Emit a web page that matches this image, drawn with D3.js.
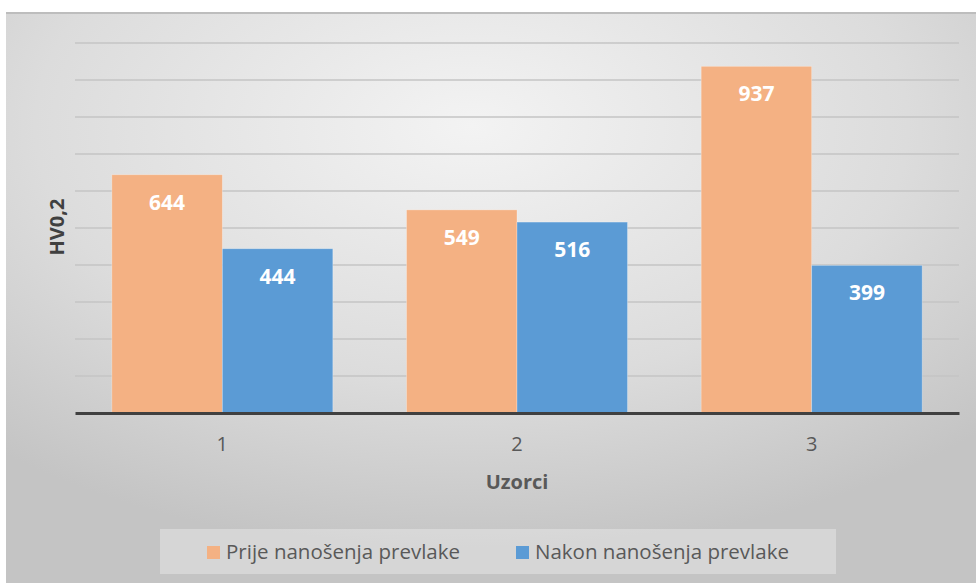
<!DOCTYPE html>
<html>
<head>
<meta charset="utf-8">
<script src="https://cdn.jsdelivr.net/npm/d3@7"></script>
<style>
  body { margin: 0; background: #fff; }
  svg text { font-family: "Open Sans", "Noto Sans", sans-serif; }
</style>
</head>
<body>
<div id="chart"></div>
<script>
const w = 976;
const h = 583;

const categories = ["1", "2", "3"];
const seriesNames = ["Prije nanošenja prevlake", "Nakon nanošenja prevlake"];
const prije = [644, 549, 937];
const nakon = [444, 516, 399];
const yTicks = [0, 100, 200, 300, 400, 500, 600, 700, 800, 900, 1000];

const colors = ["#f4b183", "#5b9bd5"];
const margin = { left: 75, right: 17, top: 43, bottom: 170 };

const svg = d3.select("#chart").append("svg").attr("width", w).attr("height", h);

// background gradient
const defs = svg.append("defs");
const grad = defs.append("radialGradient")
    .attr("id", "bg")
    .attr("cx", "48%").attr("cy", "20%").attr("r", "75%")
    .attr("fx", "48%").attr("fy", "20%");
grad.append("stop").attr("offset", "0%").attr("stop-color", "#f3f3f3");
grad.append("stop").attr("offset", "60%").attr("stop-color", "#dcdcdc");
grad.append("stop").attr("offset", "100%").attr("stop-color", "#c4c4c4");

svg.append("rect")
    .attr("x", 6).attr("y", 12)
    .attr("width", w - 6).attr("height", h - 12)
    .style("fill", "url(#bg)");
svg.append("line")
    .attr("x1", 6).attr("x2", w).attr("y1", 13).attr("y2", 13)
    .style("stroke", "#bdbdbd").style("stroke-width", 2);

const x = d3.scaleBand()
    .domain(categories)
    .range([margin.left, w - margin.right])
    .paddingInner(0.25)
    .paddingOuter(0.125);

const xSub = d3.scaleBand()
    .domain([0, 1])
    .range([0, x.bandwidth()]);

const y = d3.scaleLinear()
    .domain([0, 1000])
    .range([413, margin.top]);

// gridlines
svg.append("g")
    .selectAll("line")
    .data(yTicks.slice(1))
    .enter()
    .append("line")
    .attr("x1", margin.left)
    .attr("x2", w - margin.right)
    .attr("y1", d => y(d))
    .attr("y2", d => y(d))
    .style("stroke", "#c4c4c4")
    .style("stroke-width", 1.6);

const rows = categories.map((c, i) => ({ cat: c, values: [prije[i], nakon[i]] }));

const groups = svg.selectAll(".grp")
    .data(rows)
    .enter()
    .append("g")
    .attr("class", "grp")
    .attr("transform", d => "translate(" + x(d.cat) + ",0)");

groups.selectAll("rect")
    .data(d => d.values.map((v, j) => ({ v: v, j: j })))
    .enter()
    .append("rect")
    .attr("x", d => xSub(d.j))
    .attr("width", xSub.bandwidth())
    .attr("y", d => y(d.v))
    .attr("height", d => y(0) - y(d.v))
    .style("fill", d => colors[d.j])
    .style("stroke", "#ffffff")
    .style("stroke-opacity", 0.35)
    .style("stroke-width", 0.8);

groups.selectAll("text")
    .data(d => d.values.map((v, j) => ({ v: v, j: j })))
    .enter()
    .append("text")
    .attr("x", d => xSub(d.j) + xSub.bandwidth() / 2)
    .attr("y", d => y(d.v) + 35)
    .attr("text-anchor", "middle")
    .style("fill", "#ffffff")
    .style("font-weight", "bold")
    .style("font-size", "21px")
    .text(d => d.v);

// x axis
const xAxis = d3.axisBottom(x).tickSize(0).tickPadding(24);
const gx = svg.append("g")
    .attr("transform", "translate(0," + y(0) + ")")
    .call(xAxis);
gx.select(".domain").style("stroke", "#404040").style("stroke-width", 3);
gx.selectAll("text")
    .style("font-size", "20px")
    .style("fill", "#595959")
    .attr("font-family", null);

svg.append("text")
    .attr("x", (margin.left + w - margin.right) / 2)
    .attr("y", 489)
    .attr("text-anchor", "middle")
    .style("font-size", "20px")
    .style("font-weight", "bold")
    .style("fill", "#595959")
    .text("Uzorci");

svg.append("text")
    .attr("transform", "translate(64,227) rotate(-90)")
    .attr("text-anchor", "middle")
    .style("font-size", "20px")
    .style("font-weight", "bold")
    .style("fill", "#404040")
    .text("HV0,2");

// legend
const legend = svg.append("g");
legend.append("rect")
    .attr("x", 160).attr("y", 529)
    .attr("width", 676).attr("height", 45)
    .style("fill", "#ffffff").style("fill-opacity", 0.3);

const legendX = [207, 516];
const items = legend.selectAll(".item")
    .data(seriesNames)
    .enter()
    .append("g")
    .attr("class", "item")
    .attr("transform", (d, i) => "translate(" + legendX[i] + ",0)");
items.append("rect")
    .attr("x", 0).attr("y", 546)
    .attr("width", 13).attr("height", 13)
    .style("fill", (d, i) => colors[i]);
items.append("text")
    .attr("x", 19).attr("y", 559)
    .style("font-size", "20.5px")
    .style("fill", "#595959")
    .text(d => d);
</script>
</body>
</html>
